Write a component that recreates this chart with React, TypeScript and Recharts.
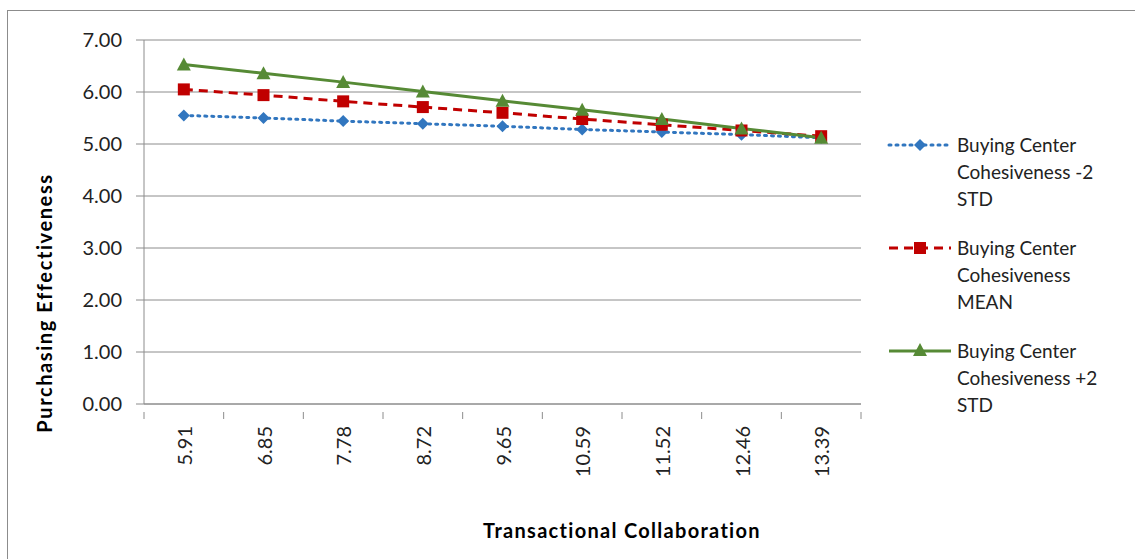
import React from "react"
import { LineChart, Line, XAxis, YAxis, CartesianGrid } from "recharts"

const categories = ["5.91", "6.85", "7.78", "8.72", "9.65", "10.59", "11.52", "12.46", "13.39"]
const minus2Std = [5.55, 5.5, 5.44, 5.39, 5.34, 5.28, 5.23, 5.18, 5.12]
const meanStd = [6.05, 5.94, 5.82, 5.71, 5.6, 5.48, 5.37, 5.26, 5.15]
const plus2Std = [6.53, 6.36, 6.19, 6.01, 5.83, 5.66, 5.48, 5.3, 5.12]
const yTicks = [0, 1, 2, 3, 4, 5, 6, 7]

const seriesNames = [
  ["Buying Center", "Cohesiveness -2", "STD"],
  ["Buying Center", "Cohesiveness", "MEAN"],
  ["Buying Center", "Cohesiveness +2", "STD"],
]

const BLUE = "#3176BF"
const RED = "#C00000"
const GREEN = "#568A35"
const AXIS = "#8c8c8c"
const FONT = "Lato, 'Open Sans', sans-serif"

const data = categories.map((c, i) => ({
  x: c,
  minus: minus2Std[i],
  mean: meanStd[i],
  plus: plus2Std[i],
}))

const W = 1127
const H = 549
const PLOT_LEFT = 136
const PLOT_RIGHT = 853
const BAND = (PLOT_RIGHT - PLOT_LEFT) / categories.length

function Diamond({ cx, cy, fill }: any) {
  if (cx == null || cy == null) return null
  const r = 6
  return <path d={`M${cx},${cy - r}L${cx + r},${cy}L${cx},${cy + r}L${cx - r},${cy}Z`} fill={fill} />
}

function Square({ cx, cy, fill }: any) {
  if (cx == null || cy == null) return null
  const r = 6
  return <rect x={cx - r} y={cy - r} width={r * 2} height={r * 2} fill={fill} />
}

function Triangle({ cx, cy, fill }: any) {
  if (cx == null || cy == null) return null
  const r = 7
  return <path d={`M${cx},${cy - r}L${cx + r},${cy + r - 1}L${cx - r},${cy + r - 1}Z`} fill={fill} />
}

function XTick({ x, y, payload, index }: any) {
  return (
    <g>
      <line x1={x - BAND / 2} y1={y} x2={x - BAND / 2} y2={y + 7} stroke={AXIS} />
      {index === categories.length - 1 && (
        <line x1={x + BAND / 2} y1={y} x2={x + BAND / 2} y2={y + 7} stroke={AXIS} />
      )}
      <text
        x={x}
        y={y + 14}
        transform={`rotate(-90, ${x}, ${y + 14})`}
        textAnchor="end"
        dominantBaseline="central"
        fontSize={20}
        fontFamily={FONT}
        fill="#222"
      >
        {payload.value}
      </text>
    </g>
  )
}

const legendItems = [
  { color: BLUE, dash: "2 5", marker: "diamond" },
  { color: RED, dash: "9 6", marker: "square" },
  { color: GREEN, dash: undefined, marker: "triangle" },
]

function LegendBox() {
  return (
    <div
      style={{
        position: "absolute",
        left: 879,
        top: 120,
        width: 240,
        fontFamily: FONT,
        fontSize: 19,
        color: "#222",
        lineHeight: "27px",
      }}
    >
      {legendItems.map((item, i) => (
        <div key={i} style={{ display: "flex", alignItems: "flex-start", marginBottom: 22 }}>
          <svg width={70} height={27} style={{ flex: "none" }}>
            <line
              x1={2}
              y1={14}
              x2={64}
              y2={14}
              stroke={item.color}
              strokeWidth={3}
              strokeDasharray={item.dash}
              strokeLinecap={item.marker === "diamond" ? "round" : "butt"}
            />
            {item.marker === "diamond" && <Diamond cx={33} cy={14} fill={item.color} />}
            {item.marker === "square" && <Square cx={33} cy={14} fill={item.color} />}
            {item.marker === "triangle" && <Triangle cx={33} cy={13} fill={item.color} />}
          </svg>
          <div>
            {seriesNames[i].map((line, j) => (
              <div key={j}>{line}</div>
            ))}
          </div>
        </div>
      ))}
    </div>
  )
}

export default function App() {
  return (
    <div
      style={{
        position: "absolute",
        left: 7,
        top: 10,
        width: W,
        height: H,
        borderTop: `1px solid ${AXIS}`,
        borderLeft: `1px solid ${AXIS}`,
        background: "#fff",
      }}
    >
      <LineChart width={W} height={H} data={data} margin={{ top: 29, right: W - PLOT_RIGHT, left: 0, bottom: 85 }}>
        <CartesianGrid vertical={false} stroke={AXIS} strokeWidth={1} />
        <XAxis
          dataKey="x"
          stroke={AXIS}
          tickLine={false}
          tick={<XTick />}
          interval={0}
          height={71}
          padding={{ left: BAND / 2, right: BAND / 2 }}
          label={{
            content: () => (
              <text
                x={614}
                y={527}
                textAnchor="middle"
                fontSize={20}
                letterSpacing={1.3}
                fontWeight="bold"
                fontFamily={FONT}
                fill="#000"
              >
                Transactional Collaboration
              </text>
            ),
          }}
        />
        <YAxis
          width={PLOT_LEFT}
          domain={[0, 7]}
          ticks={yTicks}
          interval={0}
          stroke={AXIS}
          tickSize={8}
          tickFormatter={(v: number) => v.toFixed(2)}
          tick={{ fontSize: 20, fontFamily: FONT, fill: "#222" }}
          tickMargin={14}
          label={{
            content: () => (
              <text
                x={36}
                y={292}
                transform="rotate(-90, 36, 292)"
                textAnchor="middle"
                dominantBaseline="central"
                fontSize={20}
                letterSpacing={1.6}
                fontWeight="bold"
                fontFamily={FONT}
                fill="#000"
              >
                Purchasing Effectiveness
              </text>
            ),
          }}
        />
        <Line
          name="Buying Center Cohesiveness -2 STD"
          dataKey="minus"
          stroke={BLUE}
          strokeWidth={3}
          strokeDasharray="2 5"
          strokeLinecap="round"
          dot={<Diamond fill={BLUE} />}
          isAnimationActive={false}
        />
        <Line
          name="Buying Center Cohesiveness MEAN"
          dataKey="mean"
          stroke={RED}
          strokeWidth={3}
          strokeDasharray="9 6"
          dot={<Square fill={RED} />}
          isAnimationActive={false}
        />
        <Line
          name="Buying Center Cohesiveness +2 STD"
          dataKey="plus"
          stroke={GREEN}
          strokeWidth={3}
          dot={<Triangle fill={GREEN} />}
          isAnimationActive={false}
        />
      </LineChart>
      <LegendBox />
    </div>
  )
}
